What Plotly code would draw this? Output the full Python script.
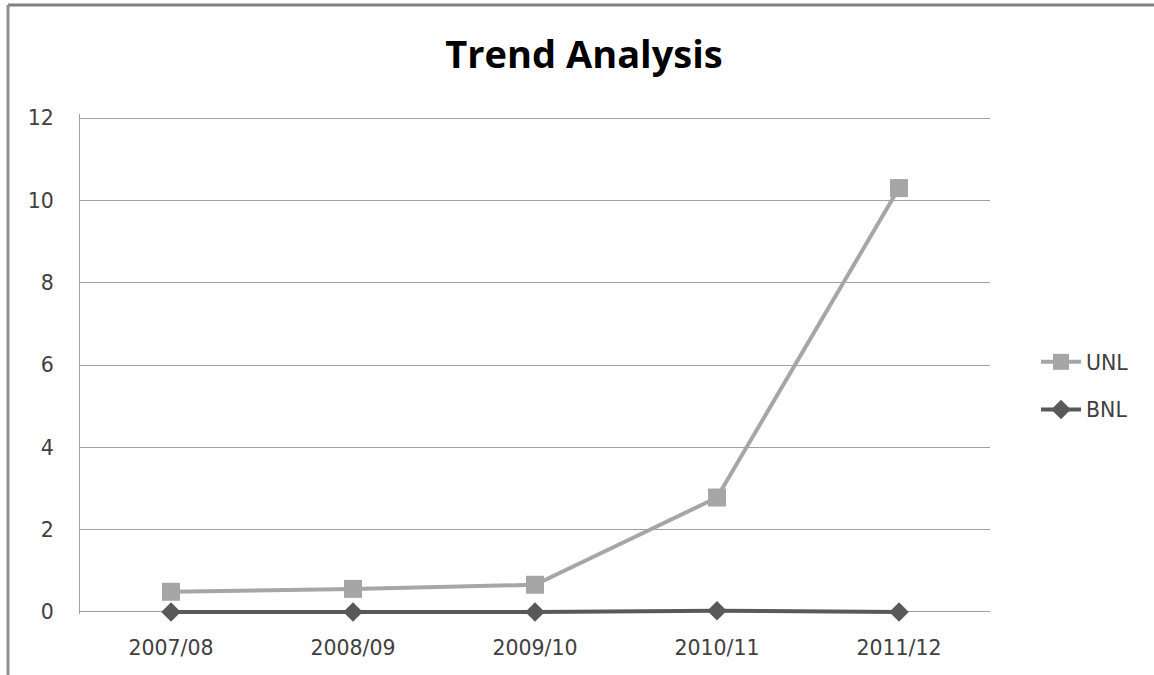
import plotly.graph_objects as go

categories = ["2007/08", "2008/09", "2009/10", "2010/11", "2011/12"]
unl = [0.49, 0.56, 0.66, 2.78, 10.3]
bnl = [0.0, 0.0, 0.0, 0.03, 0.0]
y_ticks = [0, 2, 4, 6, 8, 10, 12]

fig = go.Figure()
fig.add_trace(go.Scatter(x=categories, y=unl, name="UNL", mode="lines+markers",
                         legendgroup="a", cliponaxis=False,
                         line=dict(color="#a6a6a6", width=4),
                         marker=dict(symbol="square", size=18, color="#a6a6a6")))
fig.add_trace(go.Scatter(x=categories, y=bnl, name="BNL", mode="lines+markers",
                         legendgroup="b", cliponaxis=False,
                         line=dict(color="#595959", width=4),
                         marker=dict(symbol="diamond", size=15, color="#595959")))

L, R, T, B = 80, 164, 114, 61
W, H = 1154, 675
pw, ph = W - L - R, H - T - B

def px(x):
    return (x - L) / pw

def py(y):
    return (H - B - y) / ph

TICK_FONT = dict(family="DejaVu Sans, sans-serif", size=20.5, color="#404040")

fig.update_layout(
    width=W, height=H,
    margin=dict(l=L, r=R, t=T, b=B, pad=0),
    paper_bgcolor="white", plot_bgcolor="white",
    title=dict(text="<b>Trend Analysis</b>", x=px(584), xref="paper", xanchor="center",
               y=1 - 55 / H, yanchor="middle",
               font=dict(family="Open Sans, sans-serif", size=38, color="#000000")),
    font=TICK_FONT,
    xaxis=dict(type="category", range=[-0.5, 4.5], showgrid=False, showline=False,
               ticks="", tickfont=TICK_FONT, zeroline=False, ticklabelstandoff=19),
    yaxis=dict(range=[-0.05, 12.1], tickvals=y_ticks, showgrid=True, gridcolor="#a0a0a0",
               gridwidth=1, showline=True, linecolor="#a0a0a0", linewidth=1,
               ticks="", ticklabelstandoff=21, zeroline=True, zerolinecolor="#a0a0a0",
               zerolinewidth=1, tickfont=TICK_FONT),
    legend=dict(x=px(1036), y=py(386), xanchor="left", yanchor="middle",
                font=TICK_FONT, itemwidth=40,
                bgcolor="rgba(0,0,0,0)", tracegroupgap=18),
    showlegend=True,
    shapes=[
        dict(type="line", xref="paper", yref="paper", x0=px(8), x1=px(W), y0=py(5), y1=py(5),
             line=dict(color="#808080", width=3)),
        dict(type="line", xref="paper", yref="paper", x0=px(8), x1=px(8), y0=py(5), y1=py(H),
             line=dict(color="#909090", width=3)),
    ],
)

fig.write_html("out.html")
